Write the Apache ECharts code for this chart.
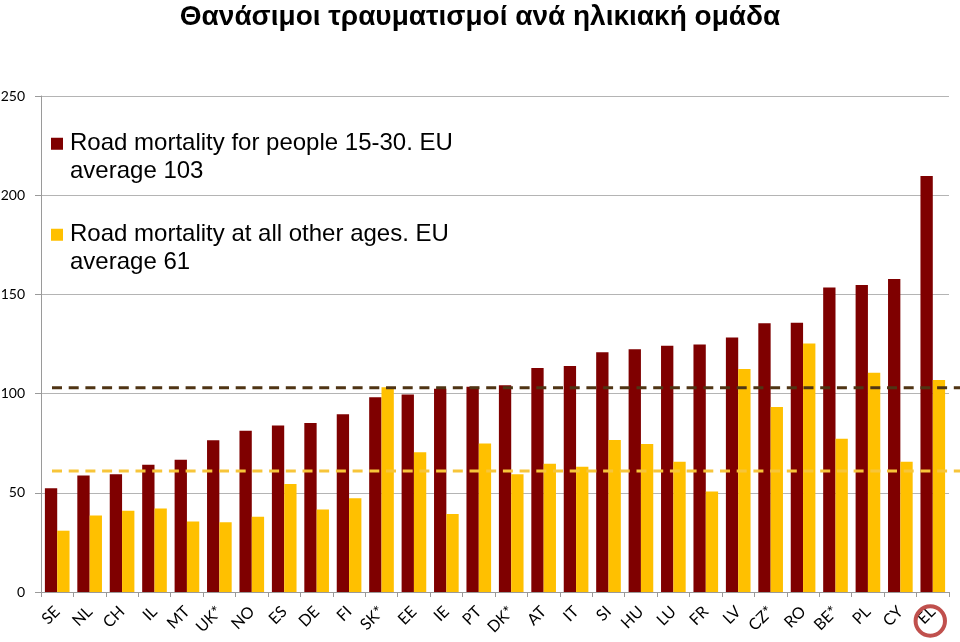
<!DOCTYPE html>
<html>
<head>
<meta charset="utf-8">
<script src="https://cdn.jsdelivr.net/npm/echarts@6/dist/echarts.min.js"></script>
<style>
html,body{margin:0;padding:0;background:#fff;}
#c{width:960px;height:642px;}
</style>
</head>
<body>
<div id="c"></div>
<script>
const categories = ['SE','NL','CH','IL','MT','UK*','NO','ES','DE','FI','SK*','EE','IE','PT','DK*','AT','IT','SI','HU','LU','FR','LV','CZ*','RO','BE*','PL','CY','EL'];
const young = [52.3,58.7,59.4,64.2,66.6,76.5,81.3,83.9,85.2,89.6,98.1,99.6,102.5,103.5,104.2,112.9,113.9,120.8,122.4,124.1,124.8,128.3,135.4,135.7,153.5,154.7,157.8,209.7];
const others = [30.9,38.5,40.9,42.1,35.5,35.2,37.9,54.4,41.6,47.3,103.2,70.5,39.3,74.8,59.4,64.6,63.1,76.6,74.6,65.7,50.6,112.4,93.3,125.3,77.2,110.5,65.7,106.8];
const youngAvg = 103;
const othersAvg = 61;
const yTicks = [0, 50, 100, 150, 200, 250];
const nameYoung = 'Road mortality for people 15-30. EU average 103';
const nameOthers = 'Road mortality at all other ages. EU average 61';
const legendText = {};
legendText[nameYoung] = 'Road mortality for people 15-30. EU\naverage 103';
legendText[nameOthers] = 'Road mortality at all other ages. EU\naverage 61';

const RED = '#7F0000', YEL = '#FFC000';
const chart = echarts.init(document.getElementById('c'), null, {renderer: 'canvas'});
const iconPath = 'path://M0,0H12V12H0Z M14,39.5L14,39.45';

chart.setOption({
  animation: false,
  backgroundColor: '#fff',
  title: {
    text: 'Θανάσιμοι τραυματισμοί ανά ηλικιακή ομάδα',
    left: 'center', top: -2,
    textStyle: {fontFamily: 'Liberation Sans', fontWeight: 'bold', fontSize: 28, color: '#000'}
  },
  legend: {
    orient: 'vertical', left: 51, top: 130, padding: 0,
    itemWidth: 14, itemHeight: 39.5, itemGap: 36,
    data: [{name: nameYoung, icon: iconPath}, {name: nameOthers, icon: iconPath}],
    formatter: n => legendText[n],
    textStyle: {fontFamily: 'Liberation Sans', fontSize: 24, lineHeight: 27.5, color: '#000'},
    selectedMode: false
  },
  grid: [
    {left: 41, right: 11, top: 96, bottom: 50, containLabel: false, outerBoundsMode: 'none'},
    {left: 52, right: 0, top: 96, bottom: 50, containLabel: false, outerBoundsMode: 'none'}
  ],
  xAxis: [
    {
      type: 'category', data: categories, gridIndex: 0,
      axisLine: {lineStyle: {color: '#9a9a9a', width: 1}},
      axisTick: {show: true, length: 5, lineStyle: {color: '#9a9a9a'}},
      axisLabel: {rotate: 45, margin: 17, fontFamily: 'Lato', fontSize: 16, color: '#000', interval: 0}
    },
    {type: 'value', gridIndex: 1, min: 0, max: 1, show: false}
  ],
  yAxis: [
    {
      type: 'value', gridIndex: 0, min: yTicks[0], max: yTicks[yTicks.length-1], interval: 50,
      axisLine: {show: true, lineStyle: {color: '#9a9a9a', width: 1}},
      axisTick: {show: true, inside: false, length: 6, lineStyle: {color: '#9a9a9a'}},
      splitLine: {lineStyle: {color: '#b4b4b4', width: 1}},
      axisLabel: {margin: 16, fontFamily: 'Lato', fontSize: 14, color: '#000'}
    },
    {type: 'value', gridIndex: 1, min: yTicks[0], max: yTicks[yTicks.length-1], show: false}
  ],
  series: [
    {name: nameYoung, type: 'bar', data: young, barGap: '0%', barCategoryGap: '24%',
     itemStyle: {color: RED}, xAxisIndex: 0, yAxisIndex: 0},
    {name: nameOthers, type: 'bar', data: others, barGap: '0%', barCategoryGap: '24%',
     itemStyle: {color: YEL}, xAxisIndex: 0, yAxisIndex: 0},
    {name: 'avgYoung', type: 'line', xAxisIndex: 1, yAxisIndex: 1, z: 5,
     data: [[0, youngAvg], [1, youngAvg]], symbol: 'none',
     lineStyle: {color: '#4f3414', width: 3, type: [10, 6.7]}},
    {name: 'avgOthers', type: 'line', xAxisIndex: 1, yAxisIndex: 1, z: 5,
     data: [[0, othersAvg], [1, othersAvg]], symbol: 'none',
     lineStyle: {color: '#F7C53A', width: 3, type: [10, 6.7]}}
  ]
});

const elX = chart.convertToPixel({xAxisIndex: 0}, 'EL');
chart.setOption({
  graphic: [{
    type: 'circle', shape: {cx: elX - 2.5, cy: 621, r: 14.7},
    style: {fill: 'none', stroke: '#C0504D', lineWidth: 4}, z: 10
  }]
});
</script>
</body>
</html>
